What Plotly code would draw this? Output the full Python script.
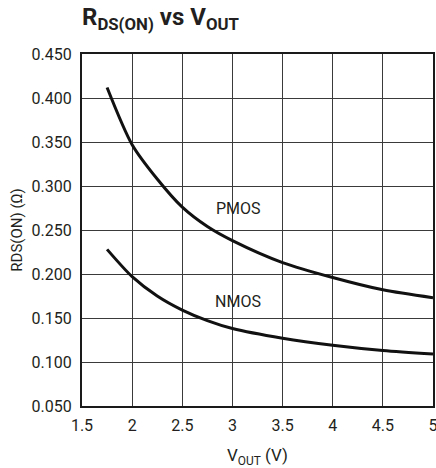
import plotly.graph_objects as go

vout = [1.75, 2.0, 2.25, 2.5, 2.75, 3.0, 3.5, 4.0, 4.5, 5.0]
pmos = [0.412, 0.347, 0.308, 0.276, 0.254, 0.238, 0.213, 0.196, 0.182, 0.173]
nmos = [0.228, 0.197, 0.175, 0.159, 0.147, 0.138, 0.127, 0.119, 0.113, 0.109]

x_ticks = [1.5, 2, 2.5, 3, 3.5, 4, 4.5, 5]
y_ticks = [0.05, 0.10, 0.15, 0.20, 0.25, 0.30, 0.35, 0.40, 0.45]

font_family = "Roboto, Liberation Sans, Arial, sans-serif"
text_color = "#231f20"

fig = go.Figure()
fig.add_trace(go.Scatter(x=vout, y=pmos, mode="lines", name="PMOS",
                         line=dict(color="#111111", width=3, shape="spline", smoothing=0.8)))
fig.add_trace(go.Scatter(x=vout, y=nmos, mode="lines", name="NMOS",
                         line=dict(color="#111111", width=3, shape="spline", smoothing=0.8)))

fig.add_annotation(x=3.06, y=0.274, text="PMOS", showarrow=False,
                   font=dict(family=font_family, size=16, color=text_color))
fig.add_annotation(x=3.06, y=0.169, text="NMOS", showarrow=False,
                   font=dict(family=font_family, size=16, color=text_color))

fig.update_layout(
    width=436, height=468,
    margin=dict(l=82, r=3, t=54, b=62, autoexpand=False),
    paper_bgcolor="white", plot_bgcolor="white",
    showlegend=False,
    font=dict(family=font_family, size=15, color=text_color),
    title=dict(text="<b>R<sub>DS(ON)</sub> vs V<sub>OUT</sub></b>",
               x=82/436, xanchor="left", y=1 - 17/468, yanchor="middle",
               font=dict(family=font_family, size=24, color=text_color)),
)
fig.update_xaxes(range=[1.5, 5], tickvals=x_ticks, ticktext=[f"{v:g}" for v in x_ticks],
                 showgrid=True, gridcolor="#3a3a3a", gridwidth=1,
                 showline=True, linecolor="#1a1a1a", linewidth=2, mirror=True,
                 ticks="", zeroline=False, automargin=False, ticklabeloverflow="allow",
                 tickfont=dict(size=16), ticklabelstandoff=4,
                 title=dict(text="V<sub>OUT</sub> (V)", standoff=16,
                            font=dict(family=font_family, size=17, color=text_color)))
fig.update_yaxes(range=[0.05, 0.45], tickvals=y_ticks, ticktext=[f"{v:.3f}" for v in y_ticks],
                 showgrid=True, gridcolor="#3a3a3a", gridwidth=1,
                 showline=True, linecolor="#1a1a1a", linewidth=2, mirror=True,
                 ticks="", zeroline=False, automargin=False, ticklabeloverflow="allow",
                 tickfont=dict(size=16), ticklabelstandoff=5,
                 title=dict(text="RDS(ON) (Ω)", standoff=5,
                            font=dict(family=font_family, size=15, color=text_color)))

fig.write_html("out.html", config={"displayModeBar": False},
               post_script="document.body.style.margin='0px';")
